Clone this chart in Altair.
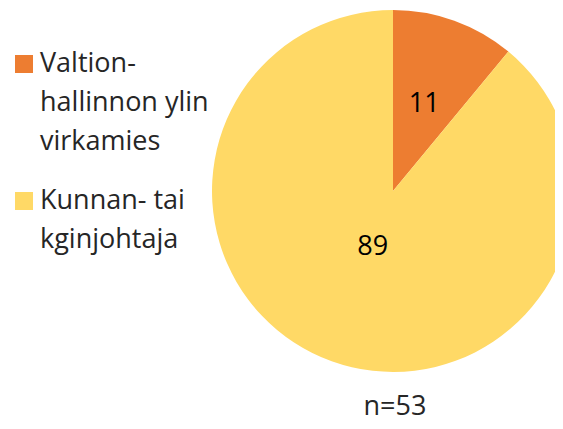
import altair as alt
import pandas as pd

categories = ["Valtion-|hallinnon ylin|virkamies", "Kunnan- tai|kginjohtaja"]
values = [11, 89]
order = [0, 1]
colors = ["#ED7D31", "#FFD966"]
note = ["n=53"]

df = pd.DataFrame({"category": categories, "value": values, "order": order})

W, H = 547, 413
CX, CY, R = 385, 183, 181
FONT = "Open Sans"
FS = 27

base = alt.Chart(df)

color = alt.Color(
    "category:N",
    scale=alt.Scale(domain=categories, range=colors),
    legend=None,
)

pie = base.mark_arc(outerRadius=R, x=CX, y=CY, stroke=None).encode(
    theta=alt.Theta("value:Q", stack=True),
    order=alt.Order("order:Q"),
    color=color,
)

labels = base.transform_window(
    cum="sum(value)", sort=[alt.SortField("order")]
).transform_joinaggregate(
    total="sum(value)"
).transform_calculate(
    mid="(datum.cum - datum.value / 2) / datum.total",
    r="datum.value > 50 ? 60 : 92",
).mark_text(x=CX, y=CY, font=FONT, fontSize=FS, color="black").encode(
    theta=alt.Theta("mid:Q", stack=False, scale=alt.Scale(domain=[0, 1])),
    radius=alt.Radius("r:Q", scale=None),
    text="value:Q",
)

# legend (manual, via a point scale)
leg_y = alt.Y(
    "category:N",
    scale=alt.Scale(type="point", domain=categories, range=[56, 193], padding=0),
    axis=None,
)
leg_sym = base.mark_square(size=324, opacity=1).encode(
    x=alt.value(16), y=leg_y, color=color
)
leg_txt = base.mark_text(
    align="left", baseline="top", dy=-13, font=FONT, fontSize=FS,
    color="#262626", lineBreak="|", lineHeight=39,
).encode(x=alt.value(32), y=leg_y, text="category:N")

n_text = alt.Chart(pd.DataFrame({"t": note})).mark_text(
    font=FONT, fontSize=FS, color="#262626", baseline="alphabetic"
).encode(x=alt.value(387), y=alt.value(407), text="t:N")

chart = alt.layer(pie, labels, leg_sym, leg_txt, n_text).resolve_scale(
    theta="independent"
).properties(
    width=W, height=H, padding=0, autosize=alt.AutoSizeParams(type="none")
).configure_view(stroke=None)

chart.save("out.html", embed_options={"renderer": "svg", "actions": False})
